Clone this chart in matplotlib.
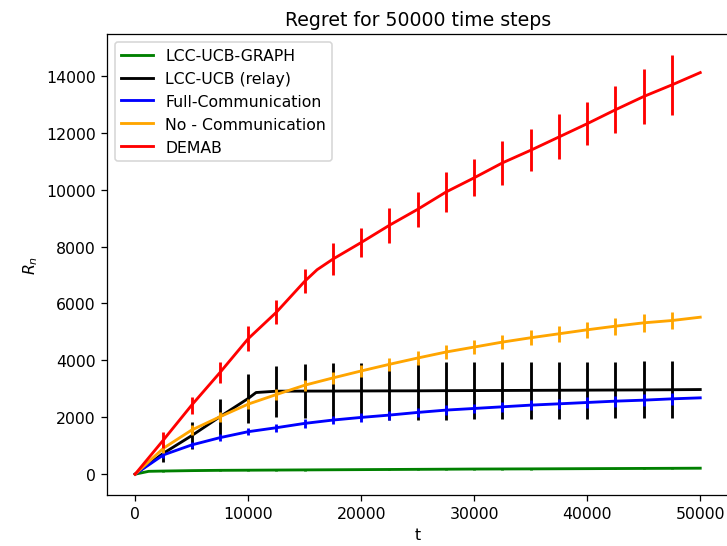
import numpy as np
import matplotlib
matplotlib.use("Agg")
import matplotlib.pyplot as plt

# time steps where the curves are sampled (error bars at the inner ones)
t = [0, 2500, 5000, 7500, 10000, 12500, 15000, 17500, 20000, 22500, 25000,
     27500, 30000, 32500, 35000, 37500, 40000, 42500, 45000, 47500, 50000]

graph_mean = [0, 110, 125, 135, 140, 145, 150, 155, 160, 165, 170,
              175, 180, 183, 186, 190, 194, 198, 202, 206, 210]
graph_err = [0, 25, 25, 25, 25, 25, 25, 25, 25, 25, 25,
             25, 25, 25, 25, 25, 25, 25, 25, 25, 0]

relay_mean = [0, 735, 1353, 2018, 2660, 2917, 2920, 2922, 2925, 2928, 2930,
              2935, 2938, 2942, 2946, 2950, 2954, 2958, 2962, 2968, 2975]
relay_err = [0, 320, 470, 640, 875, 900, 950, 980, 1000, 1010, 1020,
             1020, 1015, 1010, 1010, 1005, 1005, 1000, 1000, 1000, 0]

full_mean = [0, 677, 1027, 1283, 1493, 1633, 1785, 1902, 1995, 2077, 2170,
             2252, 2310, 2368, 2427, 2473, 2520, 2567, 2602, 2648, 2683]
full_err = [0, 100, 110, 120, 130, 140, 150, 150, 155, 160, 160,
            165, 170, 175, 180, 185, 190, 195, 200, 200, 0]

nocom_mean = [0, 910, 1551, 2018, 2462, 2800, 3127, 3383, 3628, 3862, 4083,
              4293, 4468, 4643, 4795, 4935, 5075, 5203, 5320, 5401, 5518]
nocom_err = [0, 150, 160, 170, 180, 190, 200, 210, 220, 225, 230,
             240, 250, 260, 270, 280, 290, 300, 305, 310, 0]

demab_mean = [0, 1200, 2426, 3570, 4760, 5693, 6778, 7560, 8143, 8750, 9310,
              9917, 10418, 10943, 11386, 11853, 12320, 12810, 13276, 13685, 14116]
demab_err = [0, 280, 300, 370, 440, 420, 420, 550, 520, 620, 620,
             700, 650, 770, 730, 790, 750, 830, 960, 1050, 0]

# extra points where the curves bend between samples
graph_kink = (1200, 100)
relay_kink = (10700, 2870)
demab_kink = (16100, 7187)

series = [
    ("LCC-UCB-GRAPH", "green", graph_mean, graph_err, graph_kink),
    ("LCC-UCB (relay)", "black", relay_mean, relay_err, relay_kink),
    ("Full-Communication", "blue", full_mean, full_err, None),
    ("No - Communication", "orange", nocom_mean, nocom_err, None),
    ("DEMAB", "red", demab_mean, demab_err, demab_kink),
]

fig = plt.figure(figsize=(6.4, 4.815), dpi=113.6)
ax = fig.add_axes([0.147, 0.093, 0.855, 0.843])

tt = np.array(t)
for name, color, mean, err, kink in series:
    x_line = list(t)
    y_line = list(mean)
    if kink is not None:
        i = int(np.searchsorted(tt, kink[0]))
        x_line.insert(i, kink[0])
        y_line.insert(i, kink[1])
    ax.plot(x_line, y_line, color=color, lw=1.8, label=name)
    m = np.array(err) > 0
    ax.errorbar(tt[m], np.array(mean)[m], yerr=np.array(err)[m], fmt='none',
                ecolor=color, elinewidth=1.8, capsize=0)

ax.set_xlim(-2500, 52500)
ax.set_title("Regret for 50000 time steps")
ax.set_xlabel("t")
ax.set_ylabel("$R_n$")
ax.legend(loc="upper left")

fig.savefig("out.png", dpi=113.6)
